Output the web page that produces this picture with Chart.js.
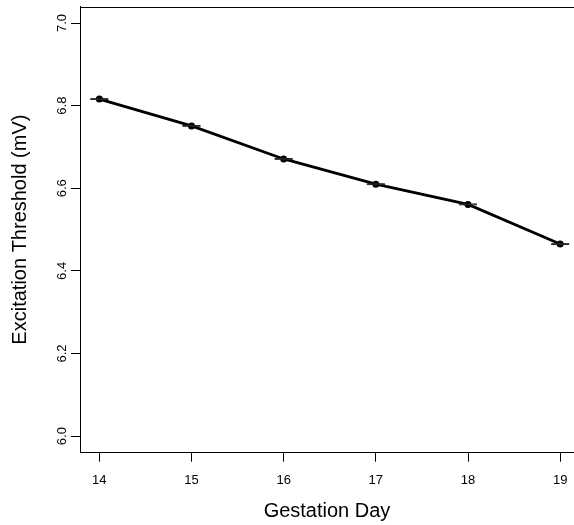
<!DOCTYPE html>
<html>
<head>
<meta charset="utf-8">
<script src="https://cdn.jsdelivr.net/npm/chart.js@4.4.1/dist/chart.umd.min.js"></script>
<style>
  html, body { margin: 0; padding: 0; background: #fff; overflow: hidden; }
  #wrap { width: 574px; height: 525px; }
  canvas { display: block; }
</style>
</head>
<body>
<div id="wrap"><canvas id="chart" width="574" height="525"></canvas></div>
<script>
// gestation days and mean excitation threshold (mV)
const days = [14, 15, 16, 17, 18, 19];
const threshold = [6.816, 6.751, 6.671, 6.610, 6.561, 6.465];
// standard errors (tiny, caps collapse into one dash)
const stdErr = [0.001, 0.001, 0.001, 0.001, 0.001, 0.001];

const xTicks = [14, 15, 16, 17, 18, 19];
const yTicks = [6.0, 6.2, 6.4, 6.6, 6.8, 7.0];

const FONT = "'Liberation Sans', Arial, sans-serif";

// top border + error bar caps + rotated y labels (R style)
const rStyle = {
    id: 'rStyle',
    afterDatasetsDraw(chart) {
        const { ctx, chartArea, scales: { x, y } } = chart;
        ctx.save();
        ctx.strokeStyle = '#000';
        ctx.lineWidth = 1;
        ctx.beginPath();
        ctx.moveTo(chartArea.left, Math.round(chartArea.top) + 0.5);
        ctx.lineTo(chartArea.right, Math.round(chartArea.top) + 0.5);
        ctx.stroke();

        ctx.strokeStyle = '#222';
        days.forEach((d, i) => {
            const px = x.getPixelForValue(d);
            const lo = y.getPixelForValue(threshold[i] - stdErr[i]);
            const hi = y.getPixelForValue(threshold[i] + stdErr[i]);
            ctx.beginPath();
            ctx.moveTo(px, lo); ctx.lineTo(px, hi);
            ctx.moveTo(px - 9, lo); ctx.lineTo(px + 9, lo);
            ctx.moveTo(px - 9, hi); ctx.lineTo(px + 9, hi);
            ctx.stroke();
        });
        ctx.restore();
    },
    afterDraw(chart) {
        const { ctx, scales: { y } } = chart;
        ctx.save();
        ctx.fillStyle = '#000';
        ctx.font = '13px ' + FONT;
        ctx.textAlign = 'center';
        ctx.textBaseline = 'alphabetic';
        yTicks.forEach(v => {
            ctx.save();
            ctx.translate(66, y.getPixelForValue(v));
            ctx.rotate(-Math.PI / 2);
            ctx.fillText(v.toFixed(1), 0, 0);
            ctx.restore();
        });
        ctx.restore();
    }
};

new Chart(document.getElementById('chart'), {
    type: 'line',
    data: {
        datasets: [{
            data: days.map((d, i) => ({ x: d, y: threshold[i] })),
            borderColor: '#000',
            backgroundColor: '#000',
            borderWidth: 2.8,
            pointRadius: 3.5,
            pointBorderWidth: 0,
            tension: 0
        }]
    },
    options: {
        responsive: false,
        devicePixelRatio: 1,
        animation: false,
        layout: { autoPadding: false, padding: { top: 6.5, right: 0, left: 0, bottom: 0 } },
        plugins: { legend: { display: false }, tooltip: { enabled: false } },
        scales: {
            x: {
                type: 'linear',
                min: 13.79,
                max: 19.15,
                afterBuildTicks: s => { s.ticks = xTicks.map(v => ({ value: v })); },
                afterFit: s => { s.height = 72.3; s.paddingLeft = 0; s.paddingRight = 0; },
                grid: { drawOnChartArea: false, drawTicks: true, tickLength: 9, color: '#000' },
                border: { display: true, color: '#000', width: 1 },
                ticks: { color: '#000', font: { family: FONT, size: 13 }, padding: 11, maxRotation: 0 },
                title: {
                    display: true, text: 'Gestation Day', color: '#000',
                    font: { family: FONT, size: 20 }, padding: { top: 0, bottom: 2 }
                }
            },
            y: {
                type: 'linear',
                min: 5.96,
                max: 7.04,
                afterBuildTicks: s => { s.ticks = yTicks.map(v => ({ value: v })); },
                afterFit: s => { s.width = 80; s.paddingTop = 0; s.paddingBottom = 0; },
                grid: { drawOnChartArea: false, drawTicks: true, tickLength: 9, color: '#000' },
                border: { display: true, color: '#000', width: 1 },
                ticks: { display: false },
                title: {
                    display: true, text: 'Excitation Threshold (mV)', color: '#000',
                    font: { family: FONT, size: 20 }, padding: { top: 8, bottom: 0 }
                }
            }
        }
    },
    plugins: [rStyle]
});
</script>
</body>
</html>
